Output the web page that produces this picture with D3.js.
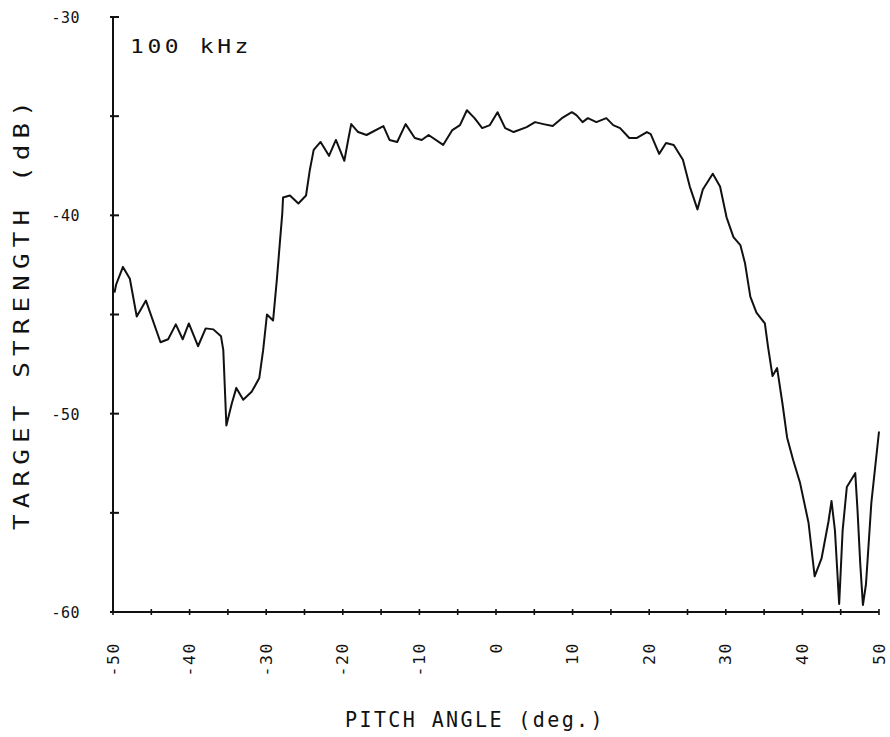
<!DOCTYPE html>
<html>
<head>
<meta charset="utf-8">
<script src="https://cdn.jsdelivr.net/npm/d3@7"></script>
<style>
  html, body { margin: 0; padding: 0; background: #fff; }
  svg { display: block; }
  text { font-family: "DejaVu Sans Mono", "Liberation Mono", monospace; fill: #111; }
</style>
</head>
<body>
<svg id="chart" width="890" height="737"></svg>
<script>
// Pitch angle (deg) and target strength (dB)
const pitch = [-49.8,-49.6,-48.7,-47.8,-46.9,-45.7,-43.8,-42.8,-41.8,-40.9,-40.1,-38.9,-37.9,-36.9,-35.9,-35.6,-35.2,-34.5,-33.9,-33.0,-31.9,-30.9,-30.4,-29.9,-29.1,-28.6,-28.2,-27.9,-27.8,-26.9,-25.8,-24.8,-24.3,-23.8,-22.9,-21.8,-20.9,-19.8,-19.3,-18.9,-18.0,-16.9,-14.7,-13.9,-12.9,-11.8,-10.6,-9.7,-8.8,-6.9,-5.7,-4.7,-3.8,-2.8,-1.8,-0.8,0.2,1.2,2.3,4.0,5.1,6.2,7.4,8.6,9.9,10.5,11.3,12.0,13.1,14.4,15.3,16.2,17.4,18.4,19.7,20.2,21.3,22.2,23.2,24.4,25.3,26.3,27.0,28.3,29.25,30.1,31.0,31.9,32.5,33.2,34.0,35.1,35.5,35.9,36.1,36.7,37.4,38.0,38.8,39.7,40.8,41.6,42.5,43.4,43.8,44.25,44.8,45.25,45.8,46.9,47.2,47.55,47.9,48.3,49.0,50.0];
const ts = [-43.9,-43.5,-42.6,-43.2,-45.1,-44.3,-46.4,-46.25,-45.5,-46.25,-45.45,-46.6,-45.7,-45.75,-46.1,-46.8,-50.6,-49.5,-48.7,-49.3,-48.9,-48.2,-46.8,-45.0,-45.3,-43.2,-41.3,-39.9,-39.1,-39.0,-39.4,-39.0,-37.7,-36.7,-36.3,-37.0,-36.2,-37.25,-36.2,-35.4,-35.8,-35.95,-35.5,-36.2,-36.3,-35.4,-36.1,-36.2,-35.95,-36.45,-35.7,-35.45,-34.7,-35.1,-35.6,-35.45,-34.8,-35.6,-35.8,-35.55,-35.3,-35.4,-35.5,-35.1,-34.8,-34.95,-35.3,-35.1,-35.3,-35.1,-35.45,-35.6,-36.1,-36.1,-35.8,-35.9,-36.9,-36.35,-36.45,-37.2,-38.55,-39.7,-38.7,-37.9,-38.55,-40.1,-41.1,-41.5,-42.4,-44.1,-44.9,-45.45,-46.6,-47.6,-48.1,-47.7,-49.5,-51.2,-52.35,-53.5,-55.5,-58.2,-57.3,-55.45,-54.4,-55.9,-59.6,-55.9,-53.7,-53.0,-54.9,-57.55,-59.65,-58.6,-54.5,-50.9];

const xTickLabels = [-50,-40,-30,-20,-10,0,10,20,30,40,50];
const xMinorTicks = d3.range(-50, 50.01, 5);
const yTickLabels = [-30,-40,-50,-60];
const yMinorTicks = d3.range(-60, -29.99, 5);
const annotation = "100 kHz";
const xTitle = "PITCH ANGLE (deg.)";
const yTitle = "TARGET STRENGTH (dB)";

const svg = d3.select("#chart");
const x = d3.scaleLinear().domain([-50, 50]).range([113, 879]);
const y = d3.scaleLinear().domain([-60, -30]).range([612, 17]);

const ink = "#111";

// Axes lines
svg.append("line").attr("x1", x(-50)).attr("x2", x(-50)).attr("y1", y(-30)).attr("y2", y(-60))
  .attr("stroke", ink).attr("stroke-width", 2);
svg.append("line").attr("x1", x(-50)).attr("x2", x(50)).attr("y1", y(-60)).attr("y2", y(-60))
  .attr("stroke", ink).attr("stroke-width", 2);

// y ticks (crossing)
svg.selectAll(".yt").data(yMinorTicks).enter().append("line")
  .attr("x1", x(-50) - 3).attr("x2", x(-50) + 6)
  .attr("y1", d => y(d)).attr("y2", d => y(d))
  .attr("stroke", ink).attr("stroke-width", 2);

// x ticks (crossing)
svg.selectAll(".xt").data(xMinorTicks).enter().append("line")
  .attr("x1", d => x(d)).attr("x2", d => x(d))
  .attr("y1", y(-60) - 3).attr("y2", y(-60) + 3)
  .attr("stroke", ink).attr("stroke-width", 1.6);

// y tick labels
svg.selectAll(".yl").data(yTickLabels).enter().append("text")
  .attr("x", 80).attr("y", d => y(d) + 6)
  .attr("text-anchor", "end")
  .attr("font-size", 15)
  .attr("letter-spacing", 0.5)
  .attr("textLength", d => String(d).length * 9.5)
  .attr("lengthAdjust", "spacingAndGlyphs")
  .text(d => d);

// x tick labels (rotated)
svg.selectAll(".xl").data(xTickLabels).enter().append("text")
  .attr("transform", d => `translate(${x(d) + 5.5},642) rotate(-90)`)
  .attr("text-anchor", "end")
  .attr("font-size", 15.5)
  .attr("letter-spacing", 1.5)
  .attr("textLength", d => String(d).length * 11.5)
  .attr("lengthAdjust", "spacingAndGlyphs")
  .text(d => d);

// annotation
svg.append("text").attr("x", 130).attr("y", 53)
  .attr("font-size", 19)
  .attr("letter-spacing", 3)
  .attr("textLength", 122).attr("lengthAdjust", "spacingAndGlyphs")
  .text(annotation);

// axis titles
svg.append("text").attr("x", 345).attr("y", 727)
  .attr("font-size", 21)
  .attr("letter-spacing", 2.5)
  .attr("textLength", 260).attr("lengthAdjust", "spacingAndGlyphs")
  .text(xTitle);

svg.append("text").attr("transform", "translate(29,530) rotate(-90)")
  .attr("font-size", 21)
  .attr("letter-spacing", 5)
  .attr("textLength", 435).attr("lengthAdjust", "spacingAndGlyphs")
  .text(yTitle);

// curve
const data = pitch.map((p, i) => [p, ts[i]]);
const line = d3.line().x(d => x(d[0])).y(d => y(d[1]));
svg.append("path").datum(data)
  .attr("d", line)
  .attr("fill", "none")
  .attr("stroke", ink)
  .attr("stroke-width", 2)
  .attr("stroke-linejoin", "round");
</script>
</body>
</html>
